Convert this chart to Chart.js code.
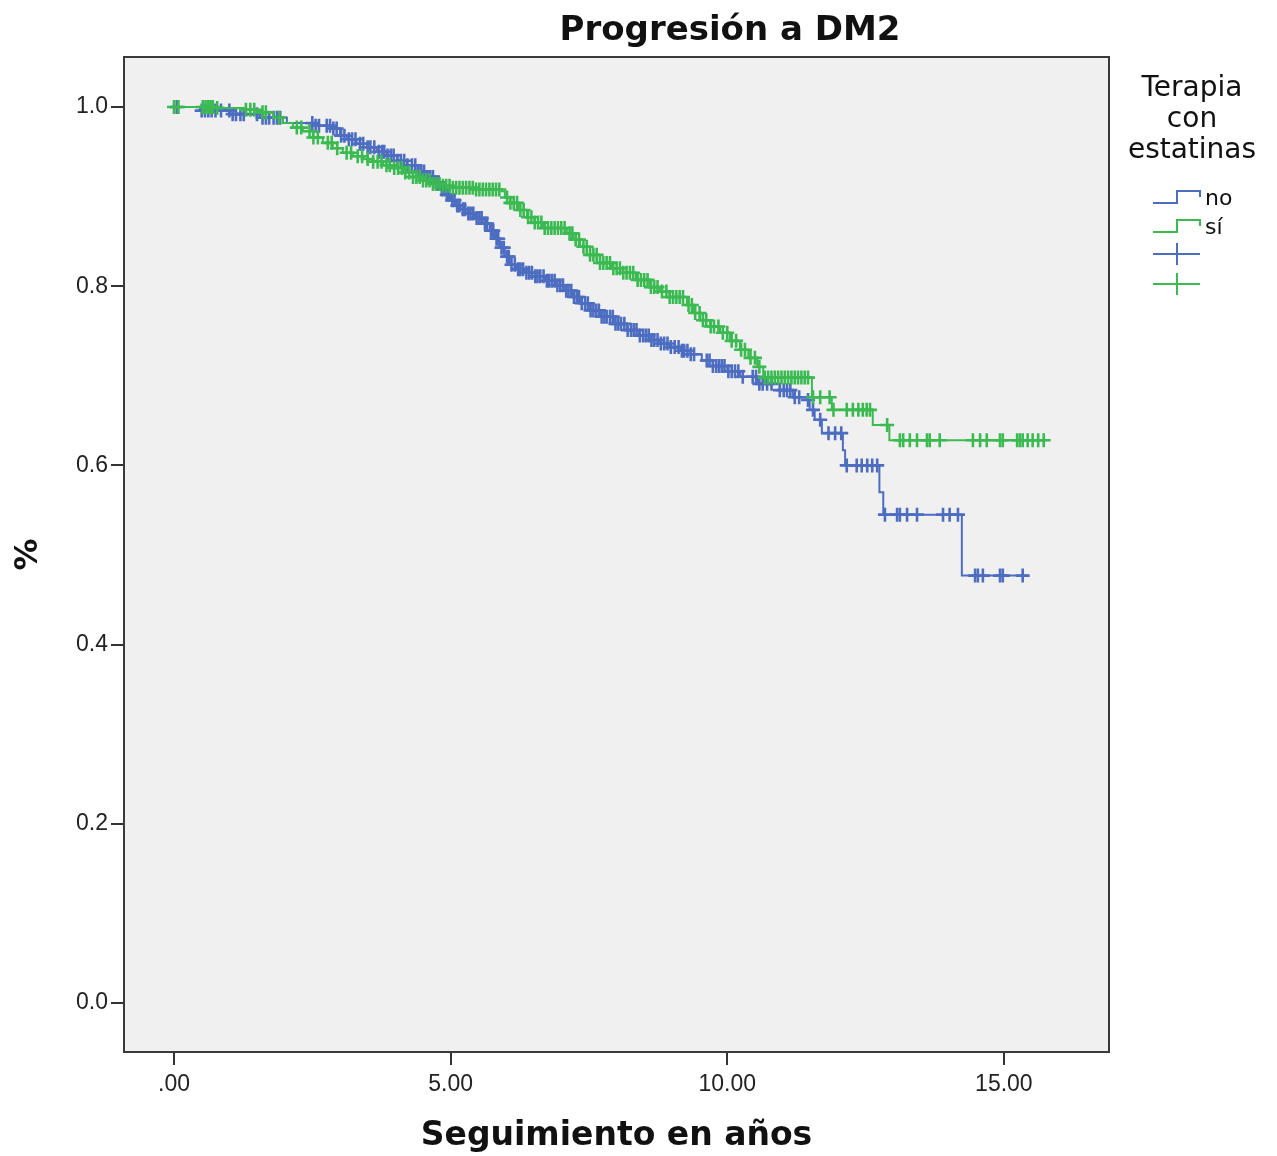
<!DOCTYPE html>
<html>
<head>
<meta charset="utf-8">
<title>Progresión a DM2</title>
<script src="https://cdn.jsdelivr.net/npm/chart.js@4.4.1/dist/chart.umd.min.js"></script>
<style>
  html, body { margin: 0; padding: 0; background: #ffffff; }
  #wrap { width: 1277px; height: 1156px; }
</style>
</head>
<body>
<div id="wrap"><canvas id="kmChart" width="1277" height="1156"></canvas></div>
<script>
// Datos (Kaplan-Meier, años de seguimiento)
const groupLabels = ['no', 'sí'];

// Grupo "no": tiempos de evento y supervivencia tras cada evento
const timeNo = [0, 0.47, 1.01, 1.55, 2.04, 2.51, 2.87, 3.0, 3.13, 3.3, 3.49, 3.67, 3.85, 4.03, 4.21, 4.4,
  4.57, 4.7, 4.81, 4.9, 4.99, 5.08, 5.17, 5.3, 5.44, 5.58, 5.71, 5.8, 5.89, 5.98, 6.07, 6.2, 6.34,
  6.52, 6.71, 6.9, 7.07, 7.2, 7.34, 7.52, 7.7, 7.95, 8.19, 8.4, 8.6, 8.78, 8.96, 9.15, 9.33, 9.54,
  9.74, 10.0, 10.23, 10.54, 10.95, 11.19, 11.44, 11.49, 11.58, 11.71, 12.09, 12.13, 12.75, 12.82, 14.24];
const survNo = [1.0, 0.996, 0.992, 0.988, 0.982, 0.979, 0.976, 0.968, 0.964, 0.959, 0.955, 0.950, 0.946,
  0.940, 0.935, 0.928, 0.922, 0.916, 0.908, 0.902, 0.896, 0.890, 0.886, 0.881, 0.876, 0.870, 0.862,
  0.853, 0.843, 0.833, 0.824, 0.819, 0.815, 0.811, 0.806, 0.801, 0.795, 0.788, 0.781, 0.773, 0.766,
  0.758, 0.751, 0.745, 0.740, 0.736, 0.732, 0.728, 0.724, 0.717, 0.711, 0.705, 0.699, 0.691, 0.684,
  0.676, 0.673, 0.662, 0.651, 0.636, 0.617, 0.600, 0.570, 0.545, 0.477];
const endNo = 15.43;
// censurados del grupo "no"
const censorNo = [0.05, 0.5, 0.56, 0.62, 0.68, 0.75, 0.85, 1.0, 1.06, 1.12, 1.2, 1.26, 1.5, 1.6, 1.66,
  1.72, 1.8, 1.86, 1.92, 2.5, 2.56, 2.62, 2.76, 2.82, 2.88, 2.94, 3.02, 3.08, 3.16, 3.22, 3.28, 3.36,
  3.42, 3.5, 3.55, 3.62, 3.7, 3.76, 3.8, 3.86, 3.92, 3.97, 4.04, 4.1, 4.16, 4.22, 4.3, 4.36, 4.42,
  4.47, 4.52, 4.58, 4.63, 4.68, 4.73, 4.78, 4.84, 4.88, 4.93, 4.97, 5.03, 5.07, 5.12, 5.16, 5.22,
  5.26, 5.32, 5.36, 5.41, 5.47, 5.52, 5.56, 5.62, 5.66, 5.73, 5.77, 5.83, 5.86, 5.92, 5.96, 6.02,
  6.05, 6.1, 6.16, 6.22, 6.26, 6.31, 6.37, 6.42, 6.47, 6.53, 6.57, 6.62, 6.68, 6.74, 6.78, 6.83,
  6.88, 6.93, 6.98, 7.03, 7.09, 7.13, 7.18, 7.23, 7.28, 7.32, 7.37, 7.43, 7.48, 7.53, 7.58, 7.63,
  7.68, 7.73, 7.78, 7.82, 7.88, 7.93, 7.98, 8.03, 8.08, 8.14, 8.2, 8.26, 8.31, 8.36, 8.42, 8.48,
  8.53, 8.58, 8.63, 8.68, 8.74, 8.8, 8.86, 8.92, 8.98, 9.05, 9.12, 9.18, 9.22, 9.28, 9.34, 9.4,
  9.63, 9.68, 9.74, 9.8, 9.85, 9.9, 9.95, 10.02, 10.08, 10.14, 10.2, 10.28, 10.46, 10.52, 10.58,
  10.64, 10.72, 10.8, 10.95, 11.02, 11.08, 11.14, 11.22, 11.3, 11.46, 11.55, 11.68, 11.83, 11.95,
  12.06, 12.16, 12.34, 12.43, 12.53, 12.62, 12.71, 12.85, 13.07, 13.12, 13.25, 13.43, 13.9, 14.02,
  14.17, 14.48, 14.53, 14.62, 14.93, 14.98, 15.34];

// Grupo "sí"
const timeSi = [0, 0.74, 1.28, 1.59, 1.79, 1.97, 2.15, 2.33, 2.51, 2.69, 2.87, 3.05, 3.24, 3.42, 3.6,
  3.78, 3.96, 4.14, 4.32, 4.5, 4.68, 4.86, 5.04, 5.44, 5.89, 5.98, 6.07, 6.22, 6.38, 6.52, 6.67, 7.1,
  7.22, 7.34, 7.52, 7.7, 7.9, 8.11, 8.35, 8.6, 8.78, 8.96, 9.27, 9.4, 9.51, 9.69, 9.87, 10.05, 10.23,
  10.38, 10.54, 10.65, 11.53, 11.89, 12.63, 12.93];
const survSi = [1.0, 0.999, 0.997, 0.994, 0.988, 0.982, 0.977, 0.973, 0.966, 0.960, 0.954, 0.949, 0.945,
  0.942, 0.939, 0.935, 0.932, 0.927, 0.922, 0.918, 0.914, 0.912, 0.910, 0.908, 0.906, 0.899, 0.893,
  0.885, 0.877, 0.871, 0.865, 0.859, 0.852, 0.844, 0.835, 0.826, 0.820, 0.815, 0.807, 0.799, 0.794,
  0.788, 0.779, 0.770, 0.762, 0.755, 0.748, 0.739, 0.729, 0.720, 0.710, 0.698, 0.676, 0.662, 0.645,
  0.628];
const endSi = 15.78;
const censorSi = [0.0, 0.08, 0.52, 0.57, 0.62, 0.66, 0.7, 0.78, 1.3, 1.38, 1.45, 1.6, 1.66, 1.9, 2.22,
  2.3, 2.45, 2.52, 2.6, 2.78, 2.85, 2.95, 3.12, 3.2, 3.32, 3.4, 3.5, 3.6, 3.68, 3.75, 3.84, 3.9, 3.98,
  4.05, 4.12, 4.18, 4.25, 4.32, 4.38, 4.44, 4.5, 4.56, 4.62, 4.68, 4.74, 4.8, 4.86, 4.92, 4.98, 5.04,
  5.1, 5.16, 5.22, 5.28, 5.34, 5.4, 5.46, 5.52, 5.58, 5.64, 5.7, 5.76, 5.82, 5.88, 6.02, 6.08, 6.14,
  6.2, 6.26, 6.32, 6.4, 6.46, 6.52, 6.58, 6.64, 6.7, 6.76, 6.82, 6.88, 6.94, 7.0, 7.06, 7.15, 7.2,
  7.26, 7.32, 7.4, 7.46, 7.52, 7.58, 7.64, 7.7, 7.76, 7.82, 7.88, 7.94, 8.0, 8.06, 8.12, 8.18, 8.24,
  8.3, 8.38, 8.44, 8.5, 8.56, 8.62, 8.68, 8.74, 8.82, 8.9, 8.96, 9.02, 9.08, 9.14, 9.2, 9.3, 9.36,
  9.42, 9.5, 9.56, 9.62, 9.7, 9.76, 9.84, 9.92, 10.0, 10.08, 10.16, 10.25, 10.32, 10.42, 10.5, 10.58,
  10.68, 10.74, 10.8, 10.86, 10.92, 10.98, 11.04, 11.1, 11.16, 11.22, 11.28, 11.34, 11.4, 11.46,
  11.55, 11.68, 11.85, 11.92, 12.16, 12.27, 12.37, 12.45, 12.52, 12.58, 12.89, 13.12, 13.18, 13.3,
  13.43, 13.61, 13.66, 13.84, 14.44, 14.57, 14.69, 14.93, 14.98, 15.24, 15.29, 15.34, 15.43, 15.52,
  15.62, 15.72];

// Ejes
const xTickValues = [0, 5, 10, 15];
const xTickLabels = ['.00', '5.00', '10.00', '15.00'];
const yTickValues = [0, 0.2, 0.4, 0.6, 0.8, 1.0];
const yTickLabels = ['0.0', '0.2', '0.4', '0.6', '0.8', '1.0'];

const BLUE = '#4d6dc1';
const GREEN = '#3cba52';

/**
 * Valor de la curva escalonada en el tiempo t
 */
function survAt(times, surv, t) {
    let s = surv[0];
    for (let i = 0; i < times.length; i++) {
        if (times[i] <= t) s = surv[i];
    }
    return s;
}

function stepPoints(times, surv, end) {
    const pts = times.map((t, i) => ({ x: t, y: surv[i] }));
    pts.push({ x: end, y: surv[surv.length - 1] });
    return pts;
}

function censorPoints(censors, times, surv) {
    return censors.map(t => ({ x: t, y: survAt(times, surv, t) }));
}

// fondo gris y marco del área de trazado
const plotFrame = {
    id: 'plotFrame',
    beforeDatasetsDraw(chart) {
        const { ctx, chartArea: a } = chart;
        ctx.save();
        ctx.fillStyle = '#f0f0f0';
        ctx.fillRect(a.left, a.top, a.right - a.left, a.bottom - a.top);
        ctx.restore();
    },
    afterDraw(chart) {
        const { ctx, chartArea: a } = chart;
        ctx.save();
        ctx.strokeStyle = '#3a3a3a';
        ctx.lineWidth = 2;
        ctx.strokeRect(a.left, a.top, a.right - a.left, a.bottom - a.top);
        ctx.restore();
    }
};

// título y leyenda al estilo SPSS
const titleLegend = {
    id: 'titleLegend',
    afterDraw(chart) {
        const ctx = chart.ctx;
        ctx.save();
        ctx.fillStyle = '#111';
        ctx.textAlign = 'center';
        ctx.textBaseline = 'middle';
        ctx.font = 'bold 34px "DejaVu Sans"';
        ctx.fillText('Progresión a DM2', 730, 31);

        ctx.font = '28px "DejaVu Sans"';
        ['Terapia', 'con', 'estatinas'].forEach((line, i) => {
            ctx.fillText(line, 1192, 89 + i * 31);
        });

        // símbolos de línea escalonada
        const steps = [{ c: BLUE, y: 203 }, { c: GREEN, y: 232 }];
        ctx.lineWidth = 2;
        steps.forEach((s, i) => {
            ctx.strokeStyle = s.c;
            ctx.beginPath();
            ctx.moveTo(1153, s.y);
            ctx.lineTo(1177, s.y);
            ctx.lineTo(1177, s.y - 12);
            ctx.lineTo(1200, s.y - 12);
            ctx.lineTo(1200, s.y - 6);
            ctx.stroke();
            ctx.fillStyle = '#111';
            ctx.textAlign = 'left';
            ctx.font = '22px "DejaVu Sans"';
            ctx.fillText(groupLabels[i], 1205, s.y - 4);
        });

        // símbolos de censura
        [{ c: BLUE, y: 254 }, { c: GREEN, y: 284 }].forEach(s => {
            ctx.strokeStyle = s.c;
            ctx.beginPath();
            ctx.moveTo(1153, s.y);
            ctx.lineTo(1200, s.y);
            ctx.moveTo(1177, s.y - 11);
            ctx.lineTo(1177, s.y + 11);
            ctx.stroke();
        });
        ctx.restore();
    }
};

function lineSet(label, times, surv, end, color) {
    return {
        label: label,
        data: stepPoints(times, surv, end),
        showLine: true,
        stepped: 'before',
        borderColor: color,
        borderWidth: 2,
        pointRadius: 0,
        fill: false
    };
}

function censorSet(label, censors, times, surv, color) {
    return {
        label: label,
        data: censorPoints(censors, times, surv),
        showLine: false,
        pointStyle: 'cross',
        pointRadius: 7,
        pointBorderWidth: 2.6,
        borderColor: color,
        backgroundColor: color
    };
}

const ctx = document.getElementById('kmChart').getContext('2d');
new Chart(ctx, {
    type: 'scatter',
    data: {
        datasets: [
            censorSet('sí censurado', censorSi, timeSi, survSi, GREEN),
            lineSet('sí', timeSi, survSi, endSi, GREEN),
            censorSet('no censurado', censorNo, timeNo, survNo, BLUE),
            lineSet('no', timeNo, survNo, endNo, BLUE)
        ]
    },
    options: {
        responsive: false,
        animation: false,
        layout: { padding: { left: 0, top: 57, right: 168, bottom: 0 } },
        plugins: {
            legend: { display: false },
            tooltip: { enabled: false },
            title: { display: false }
        },
        scales: {
            x: {
                type: 'linear',
                min: -0.904,
                max: 16.9,
                afterFit: (scale) => { scale.height = 104; },
                afterBuildTicks: (scale) => { scale.ticks = xTickValues.map(v => ({ value: v })); },
                ticks: {
                    color: '#222',
                    font: { family: '"Liberation Sans", Arial', size: 23 },
                    padding: 6,
                    maxRotation: 0,
                    callback: (v) => xTickLabels[xTickValues.indexOf(v)]
                },
                grid: { drawOnChartArea: false, drawTicks: true, tickLength: 13, color: '#333', lineWidth: 2 },
                border: { display: false },
                title: {
                    display: true,
                    text: 'Seguimiento en años',
                    color: '#111',
                    font: { family: '"DejaVu Sans"', size: 33, weight: 'bold' },
                    padding: { top: 0, bottom: 0 }
                }
            },
            y: {
                type: 'linear',
                min: -0.0547,
                max: 1.0558,
                afterFit: (scale) => { scale.width = 124; },
                afterBuildTicks: (scale) => { scale.ticks = yTickValues.map(v => ({ value: v })); },
                ticks: {
                    color: '#222',
                    font: { family: '"Liberation Sans", Arial', size: 23 },
                    padding: 3,
                    callback: (v) => yTickLabels[yTickValues.indexOf(v)]
                },
                grid: { drawOnChartArea: false, drawTicks: true, tickLength: 13, color: '#333', lineWidth: 2 },
                border: { display: false },
                title: {
                    display: true,
                    text: '%',
                    color: '#111',
                    font: { family: '"DejaVu Sans"', size: 32, weight: 'bold' },
                    padding: { top: 9, bottom: 0 }
                }
            }
        }
    },
    plugins: [plotFrame, titleLegend]
});
</script>
</body>
</html>
